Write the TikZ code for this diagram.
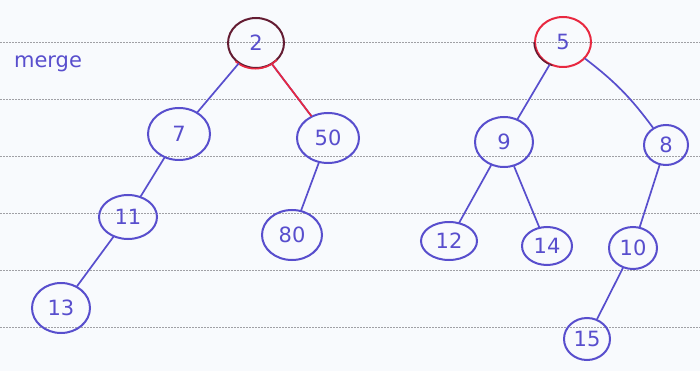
\documentclass[tikz,border=0pt]{standalone}
\usepackage{fontspec}
\setmainfont{DejaVu Sans}
\usetikzlibrary{shapes.geometric}
\definecolor{ink}{RGB}{88,78,205}
\definecolor{redink}{RGB}{232,40,64}
\definecolor{maroon}{RGB}{100,28,50}
\definecolor{paper}{RGB}{248,250,253}
\definecolor{rule}{RGB}{160,160,165}
\tikzset{
  x=1pt, y=-1pt,
  hn/.style={ellipse, draw=ink, line width=2pt, inner sep=0pt, text=ink,
    font=\fontsize{21}{21}\selectfont},
  edge/.style={draw=ink, line width=1.7pt, line cap=round},
  redge/.style={draw=redink, line width=1.7pt, line cap=round},
  paperline/.style={draw=rule, line width=0.6pt, dash pattern=on 2pt off 1pt},
}
\begin{document}
\begin{tikzpicture}
\fill[paper] (0,0) rectangle (700,371);
\useasboundingbox (0,0) rectangle (700,371);
\foreach \yy in {42,99,156,213,270,327}
  \draw[paperline] (0,\yy) -- (700,\yy);

\node[text=ink, font=\fontsize{21}{21}\selectfont] (mergelabel) at (48,64) {merge};

% left heap
\node[hn, draw=maroon, minimum width=56pt, minimum height=50pt] (n2) at (256,43) {2};
\node[hn, minimum width=62pt, minimum height=52pt] (n7) at (179,134) {7};
\node[hn, minimum width=62pt, minimum height=50pt] (n50) at (328,138) {50};
\node[hn, minimum width=58pt, minimum height=44pt] (n11) at (128,217) {11};
\node[hn, minimum width=60pt, minimum height=50pt] (n80) at (292,235) {80};
\node[hn, minimum width=58pt, minimum height=50pt] (n13) at (61,308) {13};

% right heap
\node[hn, draw=redink, minimum width=56pt, minimum height=50pt] (n5) at (563,42) {5};
\node[hn, minimum width=58pt, minimum height=50pt] (n9) at (504,142) {9};
\node[hn, minimum width=44pt, minimum height=40pt] (n8) at (666,145) {8};
\node[hn, minimum width=56pt, minimum height=38pt] (n12) at (449,241) {12};
\node[hn, minimum width=50pt, minimum height=38pt] (n14) at (547,246) {14};
\node[hn, minimum width=48pt, minimum height=42pt] (n10) at (633,248) {10};
\node[hn, minimum width=46pt, minimum height=42pt] (n15) at (587,339) {15};

% red accents on roots
\draw[redink, line width=1.6pt] (n2.south west) arc[start angle=225, end angle=320, x radius=28pt, y radius=25pt];
\draw[maroon, line width=1.4pt] (n5.west) arc[start angle=180, end angle=250, x radius=28pt, y radius=25pt];

% edges
\draw[edge] (n2) -- (n7);
\draw[edge] (n2) -- (n50);
\draw[redge] (n2) -- (n50);
\draw[edge] (n7) -- (n11);
\draw[edge] (n11) -- (n13);
\draw[edge] (n50) -- (n80);
\draw[edge] (n5) -- (n9);
\draw[edge] (n5) to[bend left=8] (n8);
\draw[edge] (n9) -- (n12);
\draw[edge] (n9) -- (n14);
\draw[edge] (n8) -- (n10);
\draw[edge] (n10) -- (n15);
\end{tikzpicture}
\end{document}
